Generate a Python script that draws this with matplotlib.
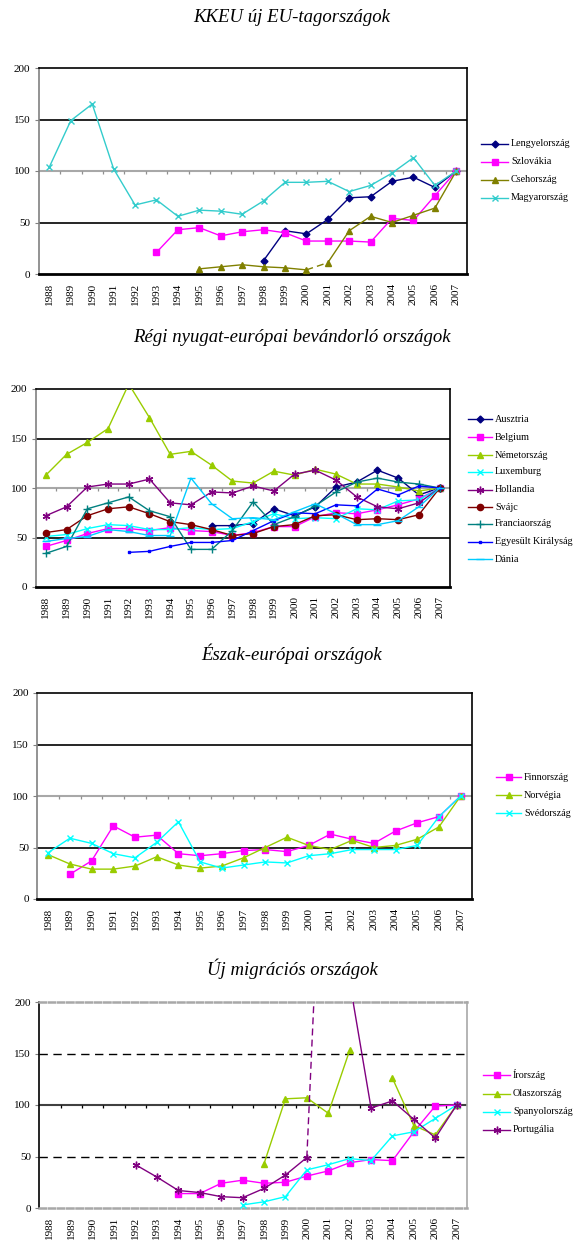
#!/usr/bin/env python3

# Migration index charts (2007 = 100) for four country groups, stacked.

import matplotlib
matplotlib.use("Agg")
import matplotlib.pyplot as plt
from matplotlib.lines import Line2D
import numpy as np

nan = np.nan
years = [str(y) for y in range(1988, 2008)]

# KKEU új EU-tagországok
lengyel = [nan] * 10 + [13, 42, 39, 53, 74, 75, 90, 94, 84, 100]
szlovakia = [nan] * 5 + [21, 43, 45, 37, 41, 43, 40, 32, 32, 32, 31, 54, 52,
                         76, 100]
cseh = [nan] * 7 + [5, 7, 9, 7, 6, 4, 11, 42, 56, 50, 57, 64, 100]
magyar = [104, 149, 165, 102, 67, 72, 56, 62, 61, 58, 71, 89, 89, 90, 80, 86,
          98, 113, 86, 100]

# Régi nyugat-európai bevándorló országok
ausztria = [nan] * 8 + [62, 62, 64, 79, 72, 81, 101, 106, 118, 110, 93, 100]
belgium = [41, 47, 54, 59, 59, 57, 60, 57, 56, 52, 55, 61, 61, 71, 75, 74, 78,
           83, 89, 100]
nemet = [113, 134, 146, 160, 205, 171, 134, 137, 123, 107, 105, 117, 113, 119,
         114, 104, 104, 101, 97, 100]
luxemburg = [51, 53, 59, 63, 62, 58, 58, 60, 58, 59, 66, 74, 69, 70, 69, 79,
             78, 87, 88, 100]
hollandia = [72, 81, 101, 104, 104, 109, 85, 83, 96, 95, 102, 97, 114, 118,
             108, 91, 81, 79, 85, 100]
svajc = [55, 58, 72, 79, 81, 74, 66, 63, 58, 52, 54, 61, 63, 72, 73, 68, 69,
         68, 73, 100]
francia = [34, 41, 79, 85, 91, 77, 71, 38, 38, 57, 86, 63, 71, 82, 96, 106,
           110, 106, 104, 100]
egyesult = [nan] * 4 + [35, 36, 41, 45, 45, 47, 57, 67, 75, 74, 83, 82, 99,
                        93, 102, 100]
dania = [46, 49, 51, 58, 56, 52, 52, 110, 84, 69, 70, 68, 76, 84, 74, 63, 63,
         67, 81, 100]

# Észak-európai országok
finn = [nan, 24, 37, 71, 60, 62, 44, 42, 44, 47, 48, 46, 52, 63, 58, 54, 66,
        74, 80, 100]
norveg = [43, 34, 29, 29, 32, 41, 33, 30, 32, 40, 50, 60, 52, 48, 57, 50, 52,
          58, 70, 100]
sved = [45, 59, 54, 44, 40, 55, 75, 36, 30, 33, 36, 35, 42, 44, 48, 48, 48,
        52, 80, 100]

# Új migrációs országok
ir = [nan] * 6 + [14, 14, 24, 27, 24, 25, 31, 36, 44, 47, 46, 74, 99, 100]
olasz = [nan] * 10 + [43, 106, 107, 92, 153, nan, 126, 80, 71, 100]
spanyol = [nan] * 9 + [3, 6, 11, 37, 42, 48, 46, 70, 74, 87, 100]
portugal = [nan] * 4 + [42, 30, 17, 15, 11, 10, 19, 32, 49, 510, 220, 97, 104,
                        86, 68, 100]

FONT = "Liberation Serif"
W, H = 574, 1240
ASTERISK = (6, 2, 0)


def make_axes(fig, left, top, right, bottom):
    """Axes placed by pixel edges of the reference."""
    return fig.add_axes([left / W, 1 - bottom / H, (right - left) / W,
                         (bottom - top) / H])


def draw_series(ax, values, color, marker, ms, dashed_seg=None):
    """Line with markers; optionally one dashed segment (k -> k+1)."""
    y = np.array(values, dtype=float)
    x = np.arange(len(y))
    style = dict(color=color, lw=1.0, marker=marker, ms=ms, mec=color,
                 mfc=color, mew=1.0, zorder=3)
    if dashed_seg is None:
        ax.plot(x, y, **style)
    else:
        k = dashed_seg
        ax.plot(x[:k + 1], y[:k + 1], **style)
        ax.plot(x[k:k + 2], y[k:k + 2], color=color, lw=1.0,
                ls=(0, (5, 3)), zorder=3)
        ax.plot(x[k + 1:], y[k + 1:], **style)


def style_axes(ax, dashed=False):
    ax.set_xlim(-0.5, len(years) - 0.5)
    ax.set_ylim(0, 200)
    ax.set_yticks([0, 50, 100, 150, 200])
    ax.set_xticks(np.arange(len(years)))
    ax.set_xticklabels(years, rotation=90, fontsize=8, family=FONT)
    for lab in ax.get_yticklabels():
        lab.set_family(FONT)
        lab.set_fontsize(8)
    ax.tick_params(axis="x", length=0, pad=6.5)
    ax.tick_params(axis="y", length=3, width=0.8, pad=3, color="#808080")
    boundaries = np.arange(0.5, len(years) - 0.5, 1)
    if not dashed:
        ax.axhline(50, color="black", lw=1.2, zorder=1)
        ax.axhline(150, color="black", lw=1.2, zorder=1)
        ax.axhline(100, color="#A8A8A8", lw=1.5, zorder=1)
        ax.vlines(boundaries, 97, 100, color="#909090", lw=0.9, zorder=1)
        for side in ("top", "right"):
            ax.spines[side].set_color("black")
            ax.spines[side].set_linewidth(1.2)
        ax.spines["bottom"].set_color("black")
        ax.spines["bottom"].set_linewidth(2.0)
        ax.spines["left"].set_color("#808080")
        ax.spines["left"].set_linewidth(1.2)
    else:
        ax.axhline(50, color="black", lw=1.0, ls=(0, (6, 4)), zorder=1)
        ax.axhline(150, color="black", lw=1.0, ls=(0, (6, 4)), zorder=1)
        ax.axhline(100, color="#404040", lw=1.5, zorder=1)
        ax.vlines(boundaries, 97, 100, color="black", lw=0.9, zorder=1)
        for side in ("top", "bottom"):
            ax.spines[side].set_color("#A8A8A8")
            ax.spines[side].set_linewidth(1.8)
            ax.spines[side].set_linestyle((0, (2.5, 1.2)))
        ax.spines["right"].set_color("#A8A8A8")
        ax.spines["right"].set_linewidth(1.2)
        ax.spines["left"].set_color("black")
        ax.spines["left"].set_linewidth(1.2)


def draw_legend(fig, entries, x0, x1, ys):
    """Legend drawn in pixel positions: line with centre marker, then text."""
    for (label, color, marker, ms), y in zip(entries, ys):
        yf = 1 - y / H
        xm = (x0 + x1) / 2
        fig.add_artist(Line2D([x0 / W, xm / W, x1 / W], [yf, yf, yf],
                              color=color, lw=1.0, marker=marker, ms=ms,
                              mec=color, mfc=color, mew=1.0, markevery=[1]))
        fig.text((x1 + 3) / W, yf, label, fontsize=7.3, family=FONT,
                 va="center", ha="left")


def title(fig, y, text):
    fig.text(292 / W, 1 - y / H, text, fontsize=13.5, family=FONT,
             style="italic", ha="center", va="center")


fig = plt.figure(figsize=(W / 100, H / 100), dpi=100)

# Panel 1
title(fig, 18, "KKEU új EU-tagországok")
ax1 = make_axes(fig, 38.7, 68, 467, 274)
style_axes(ax1)
p1 = [("Lengyelország", lengyel, "#000080", "D", 3.5, None),
      ("Szlovákia", szlovakia, "#FF00FF", "s", 4.5, None),
      ("Csehország", cseh, "#808000", "^", 5, 12),
      ("Magyarország", magyar, "#33CCCC", "x", 5, None)]
for name, vals, col, mk, ms, seg in p1:
    draw_series(ax1, vals, col, mk, ms, seg)
draw_legend(fig, [(n, c, m, s) for n, v, c, m, s, g in p1], 481, 508,
            [144, 162, 180, 198])

# Panel 2
title(fig, 338, "Régi nyugat-európai bevándorló országok")
ax2 = make_axes(fig, 35.5, 389, 450, 587)
style_axes(ax2)
p2 = [("Ausztria", ausztria, "#000080", "D", 3.5),
      ("Belgium", belgium, "#FF00FF", "s", 4.5),
      ("Németország", nemet, "#99CC00", "^", 5),
      ("Luxemburg", luxemburg, "#00FFFF", "x", 5),
      ("Hollandia", hollandia, "#800080", ASTERISK, 5.5),
      ("Svájc", svajc, "#800000", "o", 4.5),
      ("Franciaország", francia, "#008080", "+", 5.5),
      ("Egyesült Királyság", egyesult, "#0000FF", "s", 2),
      ("Dánia", dania, "#00CCFF", "_", 5.5)]
for name, vals, col, mk, ms in p2:
    draw_series(ax2, vals, col, mk, ms)
draw_legend(fig, [(n, c, m, s) for n, v, c, m, s in p2], 468, 492,
            [419, 437, 455, 472, 490, 507, 524, 542, 559])

# Panel 3
title(fig, 654, "Észak-európai országok")
ax3 = make_axes(fig, 37.3, 693, 471.5, 899)
style_axes(ax3)
p3 = [("Finnország", finn, "#FF00FF", "s", 4.5),
      ("Norvégia", norveg, "#99CC00", "^", 5),
      ("Svédország", sved, "#00FFFF", "x", 5)]
for name, vals, col, mk, ms in p3:
    draw_series(ax3, vals, col, mk, ms)
draw_legend(fig, [(n, c, m, s) for n, v, c, m, s in p3], 496, 521,
            [777, 795, 813])

# Panel 4
title(fig, 969, "Új migrációs országok")
ax4 = make_axes(fig, 39.2, 1002, 467.4, 1208)
style_axes(ax4, dashed=True)
p4 = [("Írország", ir, "#FF00FF", "s", 4.5, None),
      ("Olaszország", olasz, "#99CC00", "^", 5, None),
      ("Spanyolország", spanyol, "#00FFFF", "x", 5, None),
      ("Portugália", portugal, "#800080", ASTERISK, 5.5, 12)]
for name, vals, col, mk, ms, seg in p4:
    draw_series(ax4, vals, col, mk, ms, seg)
draw_legend(fig, [(n, c, m, s) for n, v, c, m, s, g in p4], 483, 510,
            [1075, 1094, 1112, 1130])

fig.savefig("out.png", dpi=100)
